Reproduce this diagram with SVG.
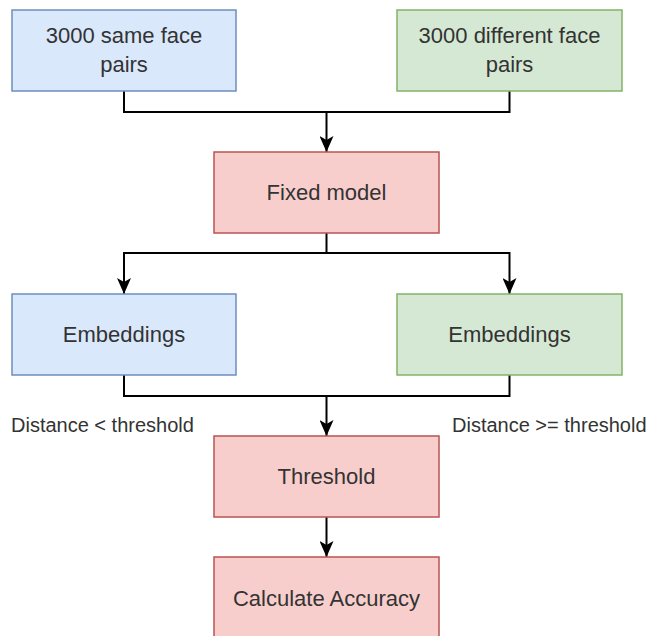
<svg xmlns="http://www.w3.org/2000/svg" width="649" height="636" viewBox="0 0 649 636">
  <defs>
    <marker id="arrow" viewBox="0 0 16 14" refX="16" refY="7" markerWidth="16" markerHeight="14" markerUnits="userSpaceOnUse" orient="auto">
      <path d="M0,0 L16,7 L0,14 L4,7 Z" fill="#000"/>
    </marker>
  </defs>
  <style>
    .box { stroke-width: 1.5; }
    .blue { fill: #dae8fc; stroke: #6c8ebf; }
    .green { fill: #d5e8d4; stroke: #82b366; }
    .red { fill: #f8cecc; stroke: #b85450; }
    text { font-family: "Liberation Sans", Arial, sans-serif; font-size: 22px; fill: #333; text-anchor: middle; }
    .lbl { font-size: 20px; text-anchor: start; }
    .edge { fill: none; stroke: #000; stroke-width: 2; }
  </style>
  <rect width="649" height="636" fill="#fff"/>

  <g id="connectors">
    <path class="edge" d="M124,91 V112 H326.5 V152" marker-end="url(#arrow)"/>
    <path class="edge" d="M509.5,91 V112 H326.5"/>
    <path class="edge" d="M326.5,233 V253 H124 V294" marker-end="url(#arrow)"/>
    <path class="edge" d="M326.5,253 H509.5 V294" marker-end="url(#arrow)"/>
    <path class="edge" d="M124,375 V396 H326.5 V436" marker-end="url(#arrow)"/>
    <path class="edge" d="M509.5,375 V396 H326.5"/>
    <path class="edge" d="M326.5,517 V557" marker-end="url(#arrow)"/>
  </g>

  <g id="same-pairs">
    <rect class="box blue" x="12" y="10" width="224" height="81"/>
    <text x="124" y="43">3000 same face</text>
    <text x="124" y="72">pairs</text>
  </g>
  <g id="different-pairs">
    <rect class="box green" x="397" y="10" width="225" height="81"/>
    <text x="509.5" y="43">3000 different face</text>
    <text x="509.5" y="72">pairs</text>
  </g>
  <g id="fixed-model">
    <rect class="box red" x="214" y="152" width="225" height="81"/>
    <text x="326.5" y="200">Fixed model</text>
  </g>
  <g id="embeddings-same">
    <rect class="box blue" x="12" y="294" width="224" height="81"/>
    <text x="124" y="342">Embeddings</text>
  </g>
  <g id="embeddings-different">
    <rect class="box green" x="397" y="294" width="225" height="81"/>
    <text x="509.5" y="342">Embeddings</text>
  </g>
  <g id="label-below">
    <text class="lbl" x="11" y="432">Distance &lt; threshold</text>
  </g>
  <g id="label-above">
    <text class="lbl" x="452" y="432">Distance &gt;= threshold</text>
  </g>
  <g id="threshold">
    <rect class="box red" x="214" y="436" width="225" height="81"/>
    <text x="326.5" y="484">Threshold</text>
  </g>
  <g id="accuracy">
    <rect class="box red" x="214" y="557" width="225" height="90"/>
    <text x="326.5" y="606">Calculate Accuracy</text>
  </g>
</svg>
